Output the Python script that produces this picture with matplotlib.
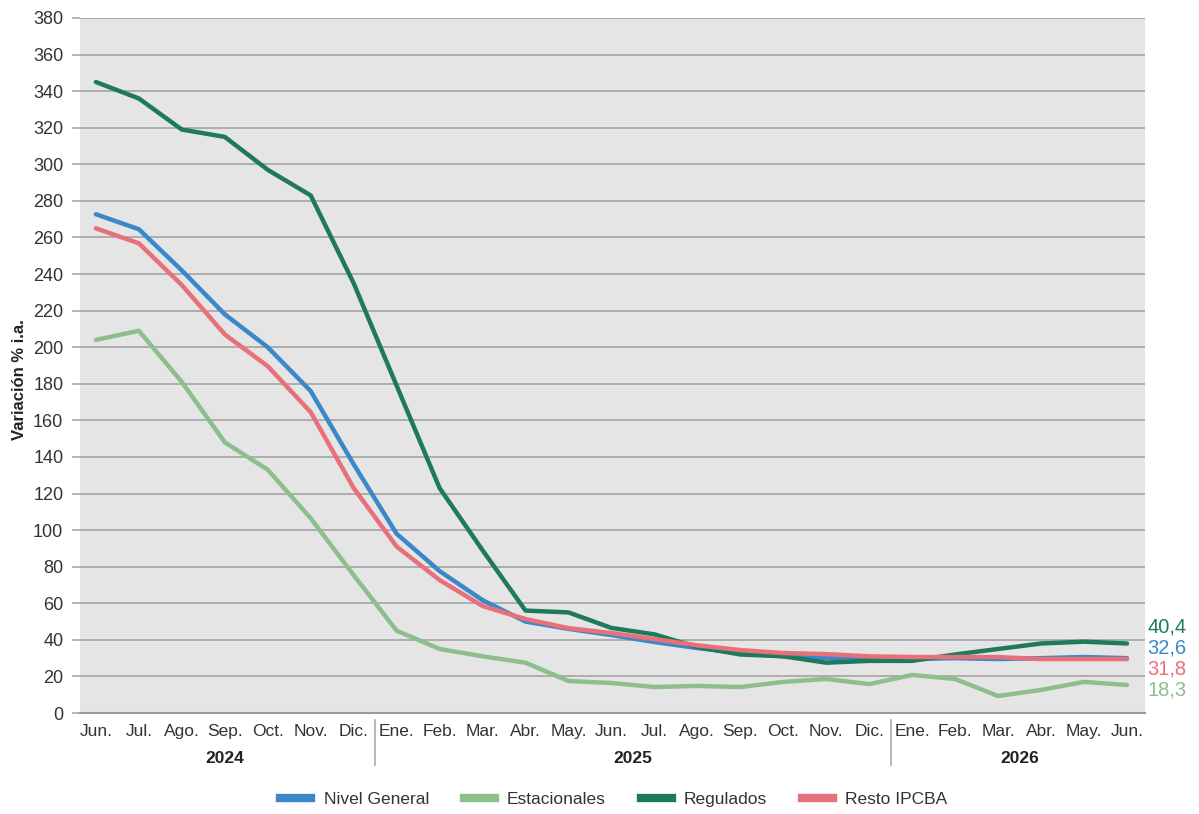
import matplotlib
matplotlib.use("Agg")
import matplotlib.pyplot as plt
import matplotlib.transforms as mtransforms
from matplotlib.lines import Line2D

plt.rcParams['font.family'] = ['Liberation Sans', 'DejaVu Sans']

months = ["Jun.", "Jul.", "Ago.", "Sep.", "Oct.", "Nov.", "Dic.",
          "Ene.", "Feb.", "Mar.", "Abr.", "May.", "Jun.", "Jul.", "Ago.", "Sep.", "Oct.", "Nov.", "Dic.",
          "Ene.", "Feb.", "Mar.", "Abr.", "May.", "Jun."]
years = ["2024", "2025", "2026"]
year_sizes = [7, 12, 6]

nivel_general = [272.7, 264.5, 242, 218, 200, 176, 136, 98, 77.6, 61.7, 50, 46, 42.6, 38.8, 35.5,
                 32.8, 31, 30, 29.5, 29.5, 30, 29.5, 30, 30.6, 30]
estacionales = [204, 209, 181, 148, 133, 106.5, 75.4, 45, 35, 31, 27.5, 17.5, 16.4, 14.2, 14.8,
                14.2, 17, 18.6, 15.8, 20.8, 18.6, 9.3, 12.6, 17, 15.3]
regulados = [345, 336, 319, 315, 297, 283, 235, 179, 123, 89, 56, 55, 46.5, 43, 36,
             32, 31, 27.5, 28.5, 28.5, 32, 35, 38, 39, 38]
resto_ipcba = [265, 256.8, 234, 207, 189.6, 164.5, 123, 91, 72.7, 58.5, 51.4, 46.4, 43.7, 40.4, 37,
               34.4, 32.8, 32.2, 31, 30.6, 30.6, 30.6, 29.5, 29.5, 29.5]

series_names = ["Nivel General", "Estacionales", "Regulados", "Resto IPCBA"]
series_values = [nivel_general, estacionales, regulados, resto_ipcba]
colors = ["#3a88c9", "#8dbf8c", "#1f7a5b", "#e8707b"]

end_labels = ["40,4", "32,6", "31,8", "18,3"]
end_colors = ["#1f7a5b", "#3a88c9", "#e8707b", "#8dbf8c"]

fig = plt.figure(figsize=(11.99, 8.14), dpi=100)
ax = fig.add_axes([80/1199, 1-713/814, (1145-80)/1199, (713-18)/814])
ax.set_facecolor("#e5e5e5")

x = list(range(len(months)))
order = [1, 0, 2, 3]
for i in order:
    ax.plot(x, series_values[i], color=colors[i], lw=3.2, solid_capstyle='round',
            solid_joinstyle='round', zorder=3)

ax.set_ylim(0, 380)
ax.set_yticks(range(0, 381, 20))
ax.set_xlim(-0.37, 24.42)
ax.grid(axis='y', color="#a9a9a9", lw=1.3, zorder=1)
ax.set_axisbelow(True)
for s in ["top", "right", "left"]:
    ax.spines[s].set_visible(False)
ax.spines["bottom"].set_color("#9a9a9a")
ax.spines["bottom"].set_linewidth(1.5)
ax.tick_params(axis='y', length=6, color="#a9a9a9", width=1.2, labelsize=13,
               labelcolor="#333333", pad=6)
ax.set_xticks(x)
ax.set_xticklabels(months)
ax.tick_params(axis='x', length=0, labelsize=12.5, labelcolor="#333333", pad=8)
ax.set_ylabel("Variación % i.a.", fontsize=12, fontweight='bold', color="#222222")
ax.yaxis.set_label_coords(-0.05, 0.48)

trans = mtransforms.blended_transform_factory(ax.transData, ax.transAxes)
start = 0
for k, (yr, n) in enumerate(zip(years, year_sizes)):
    center = start + (n - 1) / 2
    ax.text(center, -0.065, yr, transform=trans, ha='center', va='center',
            fontsize=12.5, fontweight='bold', color="#222222")
    if k < len(years) - 1:
        sep = start + n - 0.5
        ax.plot([sep, sep], [-0.01, -0.075], transform=trans, color="#aaaaaa",
                lw=1.2, clip_on=False)
    start += n

for j, (lab, c) in enumerate(zip(end_labels, end_colors)):
    ax.text(1.002, 0.124 - j * 0.0305, lab, transform=ax.transAxes, ha='left', va='center',
            fontsize=14.5, color=c)

handles = [Line2D([0], [0], color=colors[i], lw=6) for i in range(4)]
fig.legend(handles, series_names, loc='center', bbox_to_anchor=(0.512, 0.018), ncol=4,
           frameon=False, fontsize=12.5, handlelength=1.8, columnspacing=2.0, handletextpad=0.7,
           labelcolor="#333333")

fig.savefig("out.png", dpi=100, facecolor="white")
